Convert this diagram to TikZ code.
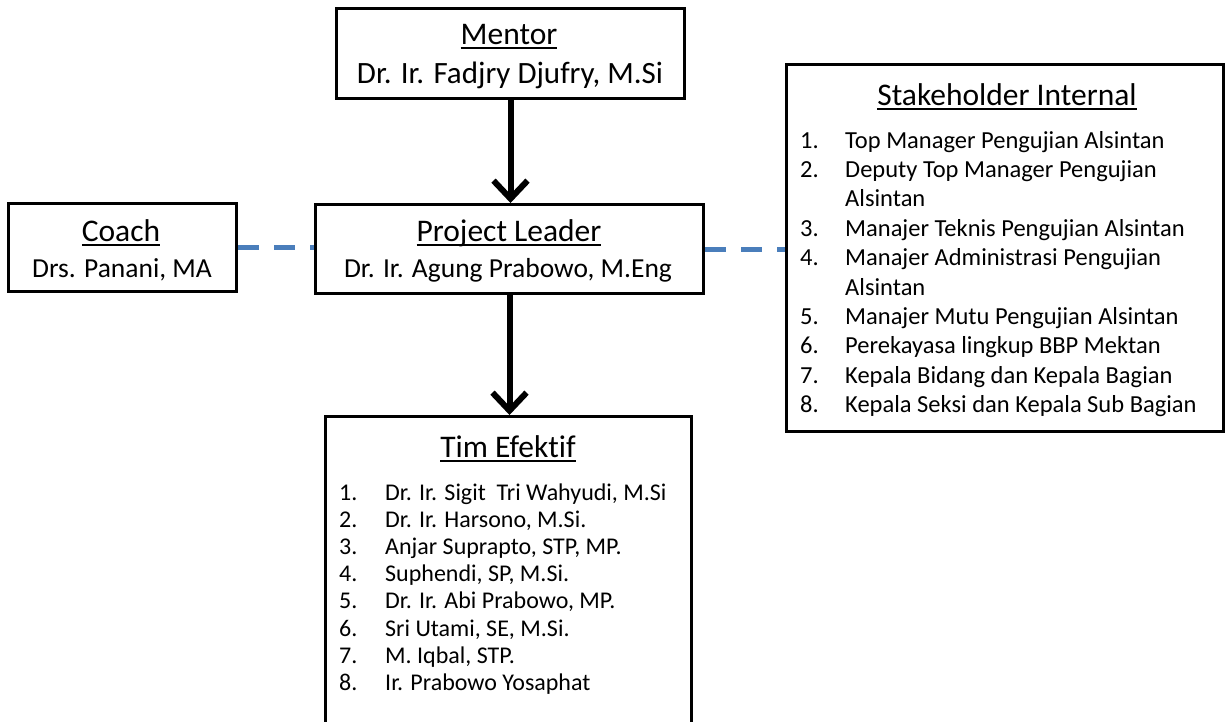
\documentclass[tikz,border=0pt]{standalone}
\usepackage{fontspec}
\setmainfont{Carlito}[Ligatures=NoCommon]
\usetikzlibrary{arrows.meta}
\definecolor{dashblue}{RGB}{74,126,187}
\newcommand{\myul}[1]{\setbox0=\hbox{#1}\rlap{\rule[-4.5pt]{\wd0}{2pt}}\box0}
\begin{document}
\begin{tikzpicture}[x=1pt,y=-1pt,
  box/.style 2 args={draw=black,line width=3pt,anchor=north west,inner sep=0pt,minimum width=#1pt,minimum height=#2pt},
  ttl/.style={anchor=base,inner sep=0pt,font=\fontsize{31.5}{36}\selectfont},
  big/.style={anchor=base,inner sep=0pt,font=\fontsize{31}{36}\selectfont},
  mid/.style={anchor=base,inner sep=0pt,font=\fontsize{27.5}{33}\selectfont},
  item/.style={anchor=base west,inner sep=0pt,font=\fontsize{24}{29}\selectfont},
  sitem/.style={anchor=base west,inner sep=0pt,font=\fontsize{24.5}{29}\selectfont},
  arr/.style={line width=6pt,-{Straight Barb[length=18pt,width=34pt]}},
  link/.style={line width=5pt,draw=dashblue,dash pattern=on 21pt off 15pt}]
\useasboundingbox (0,0) rectangle (1225,721);
\clip (0,0) rectangle (1225,721);
% boxes
\node[box={348}{90}] (mentor) at (335,7) {};
\node[box={228}{88}] (coach) at (7,202) {};
\node[box={388}{89}] (pl) at (314,203) {};
\node[box={437}{367}] (stake) at (785,63) {};
\node[box={366}{330}] (tim) at (324,415) {};
% mentor
\node[ttl] (mentorT) at (509,44) {\myul{Mentor}};
\node[big] (mentorN) at (510,83) {Dr. Ir. Fadjry Djufry, M.Si};
% coach
\node[ttl] (coachT) at (121,241) {\myul{Coach}};
\node[mid] (coachN) at (122,277) {Drs. Panani, MA};
% project leader
\node[ttl] (plT) at (509,241) {\myul{Project Leader}};
\node[mid] (plN) at (508,277) {Dr. Ir. Agung Prabowo, M.Eng};
% stakeholder
\node[ttl] (stakeT) at (1007,105) {\myul{Stakeholder Internal}};
\foreach \n/\k/\t in {1./0/Top Manager Pengujian Alsintan,
  2./1/Deputy Top Manager Pengujian,
  /2/Alsintan,
  3./3/Manajer Teknis Pengujian Alsintan,
  4./4/Manajer Administrasi Pengujian,
  /5/Alsintan,
  5./6/Manajer Mutu Pengujian Alsintan,
  6./7/Perekayasa lingkup BBP Mektan,
  7./8/Kepala Bidang dan Kepala Bagian,
  8./9/Kepala Seksi dan Kepala Sub Bagian}{
  \node[sitem] (sn\k) at (800,148+29.4*\k) {\n};
  \node[sitem] (st\k) at (845,148+29.4*\k) {\t};
}
% tim efektif
\node[ttl] (timT) at (508,457) {\myul{Tim Efektif}};
\foreach \k/\t in {1/{Dr. Ir. Sigit\ \ Tri Wahyudi, M.Si},
  2/{Dr. Ir. Harsono, M.Si.},
  3/{Anjar Suprapto, STP, MP.},
  4/{Suphendi, SP, M.Si.},
  5/{Dr. Ir. Abi Prabowo, MP.},
  6/{Sri Utami, SE, M.Si.},
  7/{M. Iqbal, STP.},
  8/{Ir. Prabowo Yosaphat}}{
  \node[item] (tn\k) at (339,500+27.2*\k-27.2) {\k.};
  \node[item] (tt\k) at (385,500+27.2*\k-27.2) {\t};
}
% connectors
\draw[arr] (mentor.south) -- (mentor.south |- pl.north);
\draw[arr] (pl.south) -- (pl.south |- tim.north);
\draw[link] (coach.east) -- (coach.east -| pl.west);
\draw[link] (pl.east) -- (pl.east -| stake.west);
\end{tikzpicture}
\end{document}
